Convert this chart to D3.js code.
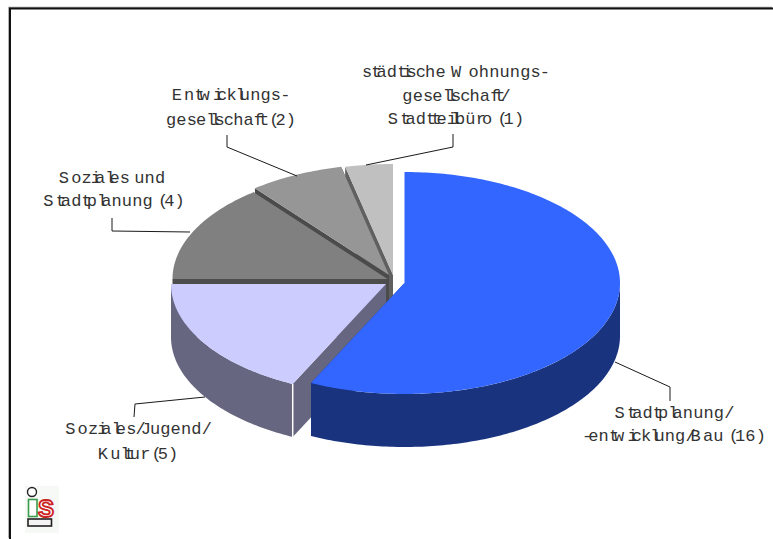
<!DOCTYPE html>
<html lang="de">
<head>
<meta charset="utf-8">
<title>Akteure</title>
<script src="https://cdn.jsdelivr.net/npm/d3@7/dist/d3.min.js"></script>
<style>
  html, body { margin: 0; padding: 0; background: #fff; }
  svg { display: block; }
</style>
</head>
<body>
<svg id="chart" width="773" height="539"></svg>
<script>
// Category names and counts, in clockwise order starting at twelve o'clock.
const categories = [
  "Stadtplanung/-entwicklung/Bau",
  "Soziales/Jugend/Kultur",
  "Soziales und Stadtplanung",
  "Entwicklungsgesellschaft",
  "städtische Wohnungsgesellschaft/Stadtteilbüro"
];
const counts = [16, 5, 4, 2, 1];

// Label text broken into the lines drawn above or below each leader.
const labelLines = [
  ["Stadtplanung/", "-entwicklung/Bau (16)"],
  ["Soziales/Jugend/", "Kultur (5)"],
  ["Soziales und", "Stadtplanung (4)"],
  ["Entwicklungs-", "gesellschaft (2)"],
  ["städtische Wohnungs-", "gesellschaft/", "Stadtteilbüro (1)"]
];

const topColors  = ["#3366ff", "#ccccff", "#808080", "#969696", "#c0c0c0"];
const sideColors = ["#19337f", "#666680", "#4d4d4d", "#4b4b4b", "#606060"];

// Exploded centre and horizontal radius of each slice on the page.
const centres = [[404.5, 283], [386, 284], [387.5, 279], [389, 275], [393, 275]];
const radiiX = [215.5, 215, 215, 215, 215];
const radiusY = 111, depth = 53;

// Label anchors: horizontal centre and the first baseline.
const labelAnchors = [[672, 418], [136, 434], [112, 183], [229, 100], [454, 77]];
const lineGap = [23, 25, 23, 25, 23.5];

// Leader polylines from the pie edge to the label.
const leaders = [
  [[615, 362], [670, 387], [670, 401]],
  [[205, 397], [135, 404], [134, 417]],
  [[190, 232], [112, 231], [112, 218]],
  [[297, 176], [227, 147], [227, 135]],
  [[366, 165], [453, 147], [453, 134]]
];

const svg = d3.select("#chart");

// Frame around the chart area: a dark rule with a soft grey edge outside it.
const framePoints = [[10, 539], [10, 8.5], [773, 8.5]];
svg.append("path")
  .attr("d", d3.line()(framePoints.map(([x, y]) => [x - 1, y - 1])))
  .attr("fill", "none").attr("stroke", "#9a9a9a").attr("stroke-width", 1.5);
svg.append("path")
  .attr("d", d3.line()(framePoints))
  .attr("fill", "none").attr("stroke", "#111").attr("stroke-width", 2);

// Slice angles from the counts; the ellipse below gives the tilted view.
const arcs = d3.pie().sort(null).startAngle(0).endAngle(2 * Math.PI)(counts);
const line = d3.line();

function rim(i, a, drop = 0) {
  const [cx, cy] = centres[i];
  return [cx + radiiX[i] * Math.sin(a), cy - radiusY * Math.cos(a) + drop];
}
function arcPoints(i, a0, a1, drop = 0) {
  const n = Math.max(2, Math.ceil((a1 - a0) * 60));
  return d3.range(n + 1).map(k => rim(i, a0 + (a1 - a0) * k / n, drop));
}
function cutWall(i, a) {
  const c = centres[i];
  return [c, rim(i, a), rim(i, a, depth), [c[0], c[1] + depth]];
}

// Back slices are painted first so the front ones overlap their walls.
const pieLayer = svg.append("g");
d3.range(arcs.length - 1, -1, -1).forEach(i => {
  const { startAngle: a0, endAngle: a1 } = arcs[i];
  const g = pieLayer.append("g");
  g.append("path").attr("d", line(cutWall(i, a1)) + "Z").attr("fill", sideColors[i]);
  g.append("path").attr("d", line(cutWall(i, a0)) + "Z").attr("fill", sideColors[i]);
  const f0 = Math.max(a0, Math.PI / 2), f1 = Math.min(a1, 3 * Math.PI / 2);
  if (f1 > f0) {
    const outer = arcPoints(i, f0, f1);
    const lower = arcPoints(i, f0, f1, depth).reverse();
    g.append("path").attr("d", line(outer.concat(lower)) + "Z").attr("fill", sideColors[i]);
  }
  g.append("path")
    .attr("d", line([centres[i]].concat(arcPoints(i, a0, a1))) + "Z")
    .attr("fill", topColors[i]);
  // Thin highlight on the front corner of the lavender slice.
  if (i === 1) {
    g.append("path")
      .attr("d", line([rim(i, a0), rim(i, a0, depth)]))
      .attr("stroke", "#fff").attr("stroke-width", 1.5);
  }
});

// Leaders
svg.append("g").selectAll("path").data(leaders).join("path")
  .attr("d", d => line(d))
  .attr("fill", "none").attr("stroke", "#1a1a1a").attr("stroke-width", 1);

// Labels: wide typewriter glyphs set on the tighter advances of a sans face.
const ctx = document.createElement("canvas").getContext("2d");
const advanceSize = 18.6, glyphSize = 17;
ctx.font = advanceSize + "px 'Liberation Sans'";
const labels = svg.append("g").attr("fill", "#333")
  .attr("font-family", "'Liberation Mono', monospace")
  .attr("font-size", glyphSize);
labelLines.forEach((lines, i) => {
  lines.forEach((txt, j) => {
    const chars = Array.from(txt);
    let pos = 0;
    const xs = chars.map(ch => { const p = pos; pos += ctx.measureText(ch).width; return p; });
    const left = labelAnchors[i][0] - pos / 2;
    labels.append("text")
      .attr("transform", `translate(${left},${labelAnchors[i][1] + j * lineGap[i]})`)
      .attr("x", xs.map(x => x.toFixed(2)).join(" "))
      .attr("y", 0)
      .text(txt);
  });
});

// Small logo in the lower-left corner.
const logo = svg.append("g");
logo.append("rect").attr("x", 25).attr("y", 486).attr("width", 34).attr("height", 47)
  .attr("fill", "#f7f9f6");
logo.append("circle").attr("cx", 32).attr("cy", 492).attr("r", 4.5)
  .attr("fill", "#fff").attr("stroke", "#222").attr("stroke-width", 1.4);
logo.append("rect").attr("x", 28.5).attr("y", 499.5).attr("width", 8.5).attr("height", 17)
  .attr("fill", "#fff").attr("stroke", "#3a9c4a").attr("stroke-width", 1.6);
logo.append("text").attr("x", 38).attr("y", 516.5)
  .attr("font-family", "'Liberation Sans', sans-serif").attr("font-weight", "bold")
  .attr("font-size", 24).attr("fill", "#fff").attr("stroke", "#cc2222").attr("stroke-width", 1.8)
  .text("S");
logo.append("rect").attr("x", 28).attr("y", 519).attr("width", 23.5).attr("height", 7)
  .attr("fill", "#f4f4f4").attr("stroke", "#222").attr("stroke-width", 1.6);
</script>
</body>
</html>
